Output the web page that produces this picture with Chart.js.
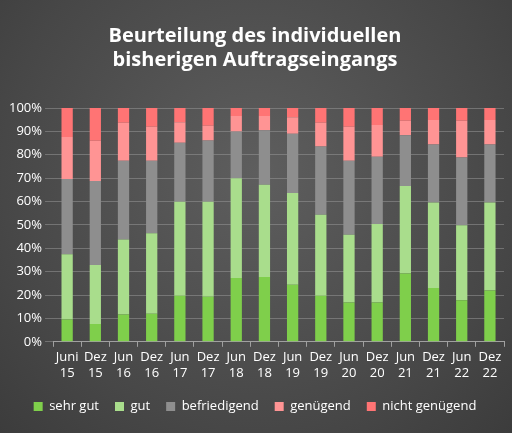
<!DOCTYPE html><html><head><meta charset="utf-8">
<script src="https://cdn.jsdelivr.net/npm/chart.js@4"></script>
<style>html,body{margin:0;padding:0;}body{width:512px;height:433px;background:radial-gradient(ellipse at 50% 40%,#5e5e5e 0%,#474747 70%,#3c3c3c 100%);}#w{width:512px;height:433px;}</style>
</head><body><div id="w"><canvas id="c"></canvas></div>
<script>
const labels=[["Juni","15"],["Dez","15"],["Jun","16"],["Dez","16"],["Jun","17"],["Dez","17"],["Jun","18"],["Dez","18"],["Jun","19"],["Dez","19"],["Jun","20"],["Dez","20"],["Jun","21"],["Dez","21"],["Jun","22"],["Dez","22"]];
const sehrGut=[9.5,7.6,11.7,12,19.7,19.3,27.3,27.7,24.4,19.7,16.8,16.8,29.2,23,17.8,21.9];
const gut=[28,25.2,32.1,34.4,40.2,40.6,42.6,39.5,39.2,34.6,29,33.6,37.4,36.6,32.1,37.7];
const befriedigend=[32.1,36,33.6,31,25.2,26.2,20.1,23.3,25.4,29.2,31.6,28.7,21.7,24.8,28.9,24.8];
const genuegend=[18,17.2,16.3,14.6,8.8,6.3,6.6,6.1,7,10.2,14.6,13.6,6.3,10.5,15.8,10.5];
const nichtGenuegend=[12.4,14,6.3,8,6.1,7.6,3.4,3.4,4,6.3,8,7.3,5.4,5.1,5.4,5.1];
const font="'Open Sans', 'Noto Sans', sans-serif";
const mk=(l,d,c)=>({label:l,data:d,backgroundColor:c,borderWidth:0,barPercentage:0.8,categoryPercentage:0.5});
new Chart(document.getElementById('c'),{type:'bar',data:{labels,datasets:[
mk('sehr gut',sehrGut,'#7fcf4b'),mk('gut',gut,'#a9dd8c'),mk('befriedigend',befriedigend,'#8e8e8e'),mk('genügend',genuegend,'#ff9494'),mk('nicht genügend',nichtGenuegend,'#ff7474')]},
options:{responsive:true,maintainAspectRatio:false,animation:false,
layout:{padding:{left:6,right:8,top:6,bottom:10}},
plugins:{title:{display:true,text:['Beurteilung des individuellen','bisherigen Auftragseingangs'],color:'#ffffff',font:{family:font,size:20,weight:'bold'},padding:{top:18,bottom:36},lineHeight:1.25},
legend:{position:'bottom',labels:{color:'#ffffff',font:{family:font,size:13},boxWidth:9,boxHeight:9,padding:16}},tooltip:{enabled:false}},
scales:{x:{stacked:true,grid:{display:true,drawOnChartArea:false,color:'#a0a0a0',tickLength:5,offset:true},border:{color:'#a0a0a0'},ticks:{color:'#ffffff',font:{family:font,size:13},maxRotation:0,autoSkip:false}},
y:{stacked:true,min:0,max:100,ticks:{stepSize:10,color:'#ffffff',font:{family:font,size:13},callback:v=>v+'%'},grid:{color:'rgba(150,150,150,0.55)'},border:{display:false}}}}});
</script></body></html>
